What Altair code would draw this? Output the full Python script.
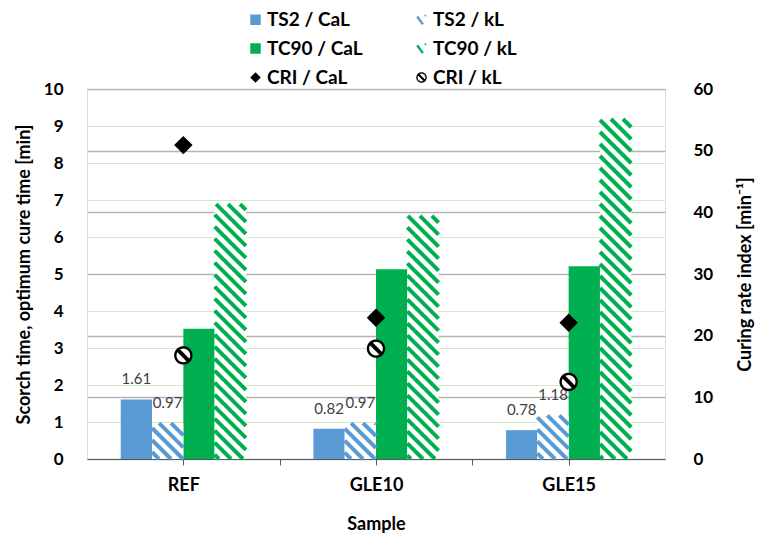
import altair as alt
import numpy as np
import pandas as pd

# ---------------------------------------------------------------- data
samples = ["REF", "GLE10", "GLE15"]
ts2_cal = [1.61, 0.82, 0.78]      # scorch time [min]
ts2_kl = [0.97, 0.97, 1.18]
tc90_cal = [3.52, 5.13, 5.21]     # optimum cure time [min]
tc90_kl = [6.89, 6.57, 9.19]
cri_cal = [50.9, 22.9, 22.1]      # curing rate index [1/min]
cri_kl = [16.8, 17.9, 12.5]

series = ["TS2 / CaL", "TS2 / kL", "TC90 / CaL", "TC90 / kL", "CRI / CaL", "CRI / kL"]
BLUE, GREEN, BLACK = "#5b9bd5", "#00b050", "#000000"
FONT = "Lato"

# -------------------------------------------------------------- layout
W, H = 578, 370
Y_MAX, Y2_MAX = 10, 60
GROUP = 0.65                 # share of a category taken by its four bars
BAR = GROUP / 4
PX_X = W / len(samples)      # pixels per x unit
PX_Y = H / Y_MAX             # pixels per primary y unit
HATCH_STEP = 12              # vertical spacing of the hatch lines, px

bar_series = [
    ("TS2 / CaL", ts2_cal, False, BLUE),
    ("TS2 / kL", ts2_kl, True, BLUE),
    ("TC90 / CaL", tc90_cal, False, GREEN),
    ("TC90 / kL", tc90_kl, True, GREEN),
]

bar_rows, stripe_rows = [], []
for g, sample in enumerate(samples):
    for j, (name, vals, hatched, col) in enumerate(bar_series):
        x0 = g + 0.5 - GROUP / 2 + j * BAR
        x1 = x0 + BAR
        v = vals[g]
        bar_rows.append(dict(sample=sample, series=name, x=x0, x2=x1,
                             xc=(x0 + x1) / 2, value=v, hatched=hatched,
                             label=f"{v:.2f}"))
        if hatched:
            # 45 degree hatch lines clipped to the bar rectangle
            u0, u1, h = x0 * PX_X, x1 * PX_X, v * PX_Y
            k = int(np.ceil(u0 / HATCH_STEP))
            while k * HATCH_STEP < u1 + h:
                c = k * HATCH_STEP
                ua, ub = max(u0, c - h), min(u1, c)
                if ub - ua > 0.5:
                    stripe_rows.append(dict(x=ua / PX_X, x2=ub / PX_X,
                                            y=(c - ua) / PX_Y, y2=(c - ub) / PX_Y,
                                            col=col))
                k += 1

bars = pd.DataFrame(bar_rows)
stripes = pd.DataFrame(stripe_rows)

cri = pd.DataFrame(
    [dict(sample=s, series="CRI / CaL", x=g + 0.5, value=cri_cal[g]) for g, s in enumerate(samples)]
    + [dict(sample=s, series="CRI / kL", x=g + 0.5, value=cri_kl[g]) for g, s in enumerate(samples)]
)


# ------------------------------------------------------- symbol paths
def ring(r, n, clockwise):
    ang = np.linspace(0, 2 * np.pi, n, endpoint=False)
    if not clockwise:
        ang = ang[::-1]
    pts = [f"{r * np.cos(a):.3f},{r * np.sin(a):.3f}" for a in ang]
    return "M" + "L".join(pts) + "Z"


# circle outline crossed by a diagonal band
crossed_circle = (ring(1.0, 36, True) + ring(0.74, 36, False)
                  + "M-0.85,-0.55L-0.55,-0.85L0.85,0.55L0.55,0.85Z")
# a fragment of the hatch pattern
hatch_glyph = ("M-1,-0.45L-0.65,-0.75L0.45,0.75L0.1,1Z"
               "M0.5,-0.95L0.85,-0.95L0.95,-0.6L0.7,-0.6Z")

# legend fills its two columns top to bottom, so list column by column
legend_order = [series[0], series[2], series[4], series[1], series[3], series[5]]
palette = dict(zip(series, [BLUE, BLUE, GREEN, GREEN, BLACK, BLACK]))
glyphs = dict(zip(series, ["square", hatch_glyph, "square", hatch_glyph,
                           "diamond", crossed_circle]))
color_scale = alt.Scale(domain=legend_order, range=[palette[s] for s in legend_order])
shape_scale = alt.Scale(domain=legend_order, range=[glyphs[s] for s in legend_order])

legend = alt.Legend(
    title=None, orient="none", legendX=159, legendY=-79, columns=2,
    columnPadding=49, rowPadding=9, padding=0,
    symbolSize=110, symbolStrokeWidth=0, symbolOpacity=1,
    labelFont=FONT, labelFontSize=19, labelFontWeight="bold", labelColor="black",
    labelOffset=2, labelLimit=300,
)

# ---------------------------------------------------------------- axes
label_expr = " : ".join(f"datum.value == {g + 0.5} ? '{s}'" for g, s in enumerate(samples)) + " : ''"
x_scale = alt.Scale(domain=[0, len(samples)], nice=False, zero=False)
x_axis = alt.Axis(
    values=[0.5, 1, 1.5, 2, 2.5], labelExpr=label_expr, title="Sample", grid=False,
    ticks=True, tickSize=6, tickColor="#595959", domainColor="#595959",
    labelFont=FONT, labelFontSize=18, labelFontWeight="bold", labelColor="black",
    labelPadding=11, labelFlush=False, labelOverlap=False,
    titleFont=FONT, titleFontSize=18, titleFontWeight="bold", titleColor="black",
    titlePadding=21,
)
y_scale = alt.Scale(domain=[0, Y_MAX], nice=False)
y_axis = alt.Axis(
    values=list(range(0, Y_MAX + 1)), title="Scorch time, optimum cure time [min]",
    grid=True, gridColor="#d5eac4", gridWidth=1, ticks=False, tickSize=0, domain=False,
    labelFont=FONT, labelFontSize=17, labelFontWeight="bold", labelColor="black",
    labelPadding=24,
    titleFont=FONT, titleFontSize=18, titleFontWeight="bold", titleColor="black",
    titlePadding=10,
)
y2_scale = alt.Scale(domain=[0, Y2_MAX], nice=False)
y2_axis = alt.Axis(
    orient="right", values=list(range(0, Y2_MAX + 1, 10)), title="Curing rate index [min⁻¹]",
    grid=True, gridColor="#b3b3b3", gridWidth=1.5, ticks=False, tickSize=0, domain=False,
    labelFont=FONT, labelFontSize=17, labelFontWeight="bold", labelColor="black",
    labelPadding=28,
    titleFont=FONT, titleFontSize=18, titleFontWeight="bold", titleColor="black",
    titleAngle=270, titleBaseline="top", titlePadding=24,
)

X = alt.X("x:Q", scale=x_scale, axis=x_axis)
Y = alt.Y("value:Q", scale=y_scale, axis=y_axis)

# ------------------------------------------------------ primary layers
solid = alt.Chart(bars[~bars.hatched]).mark_bar().encode(
    x=X, x2="x2:Q", y=Y, y2=alt.datum(0),
    color=alt.Color("series:N", scale=color_scale, legend=legend),
)
hatch_bg = alt.Chart(bars[bars.hatched]).mark_bar(color="white").encode(
    x=X, x2="x2:Q", y=Y, y2=alt.datum(0),
)
hatch_lines = alt.Chart(stripes).mark_rule(strokeWidth=4).encode(
    x=X, x2="x2:Q",
    y=alt.Y("y:Q", scale=y_scale, axis=y_axis), y2="y2:Q",
    color=alt.Color("col:N", scale=None),
)
ts2_labels = alt.Chart(bars[bars.series.str.startswith("TS2")]).mark_text(
    dy=-20, font=FONT, fontSize=15, color="#404040", baseline="middle", align="center"
).encode(
    x=alt.X("xc:Q", scale=x_scale, axis=x_axis),
    y=Y,
    text="label:N",
)
primary = alt.layer(solid, hatch_bg, hatch_lines, ts2_labels)

# ---------------------------------------------------- secondary layers
Y2 = alt.Y("value:Q", scale=y2_scale, axis=y2_axis)
marker_bg = alt.Chart(cri[cri.series == "CRI / kL"]).mark_point(
    shape="circle", filled=True, color="white", size=290, opacity=1
).encode(x=X, y=Y2)
markers = alt.Chart(cri).mark_point(filled=True, size=340, opacity=1).encode(
    x=X, y=Y2,
    color=alt.Color("series:N", scale=color_scale, legend=legend),
    shape=alt.Shape("series:N", scale=shape_scale, legend=legend),
)
secondary = alt.layer(marker_bg, markers)

chart = (
    alt.layer(primary, secondary)
    .resolve_scale(y="independent")
    .properties(
        width=W, height=H, background="white",
        padding={"left": 87, "top": 89, "right": 100, "bottom": 86},
        autosize=alt.AutoSizeParams(type="none"),
    )
    .configure_view(stroke="#595959", strokeWidth=1)
    .configure(font=FONT)
)

chart.save("out.html", embed_options={"renderer": "svg", "actions": False})
